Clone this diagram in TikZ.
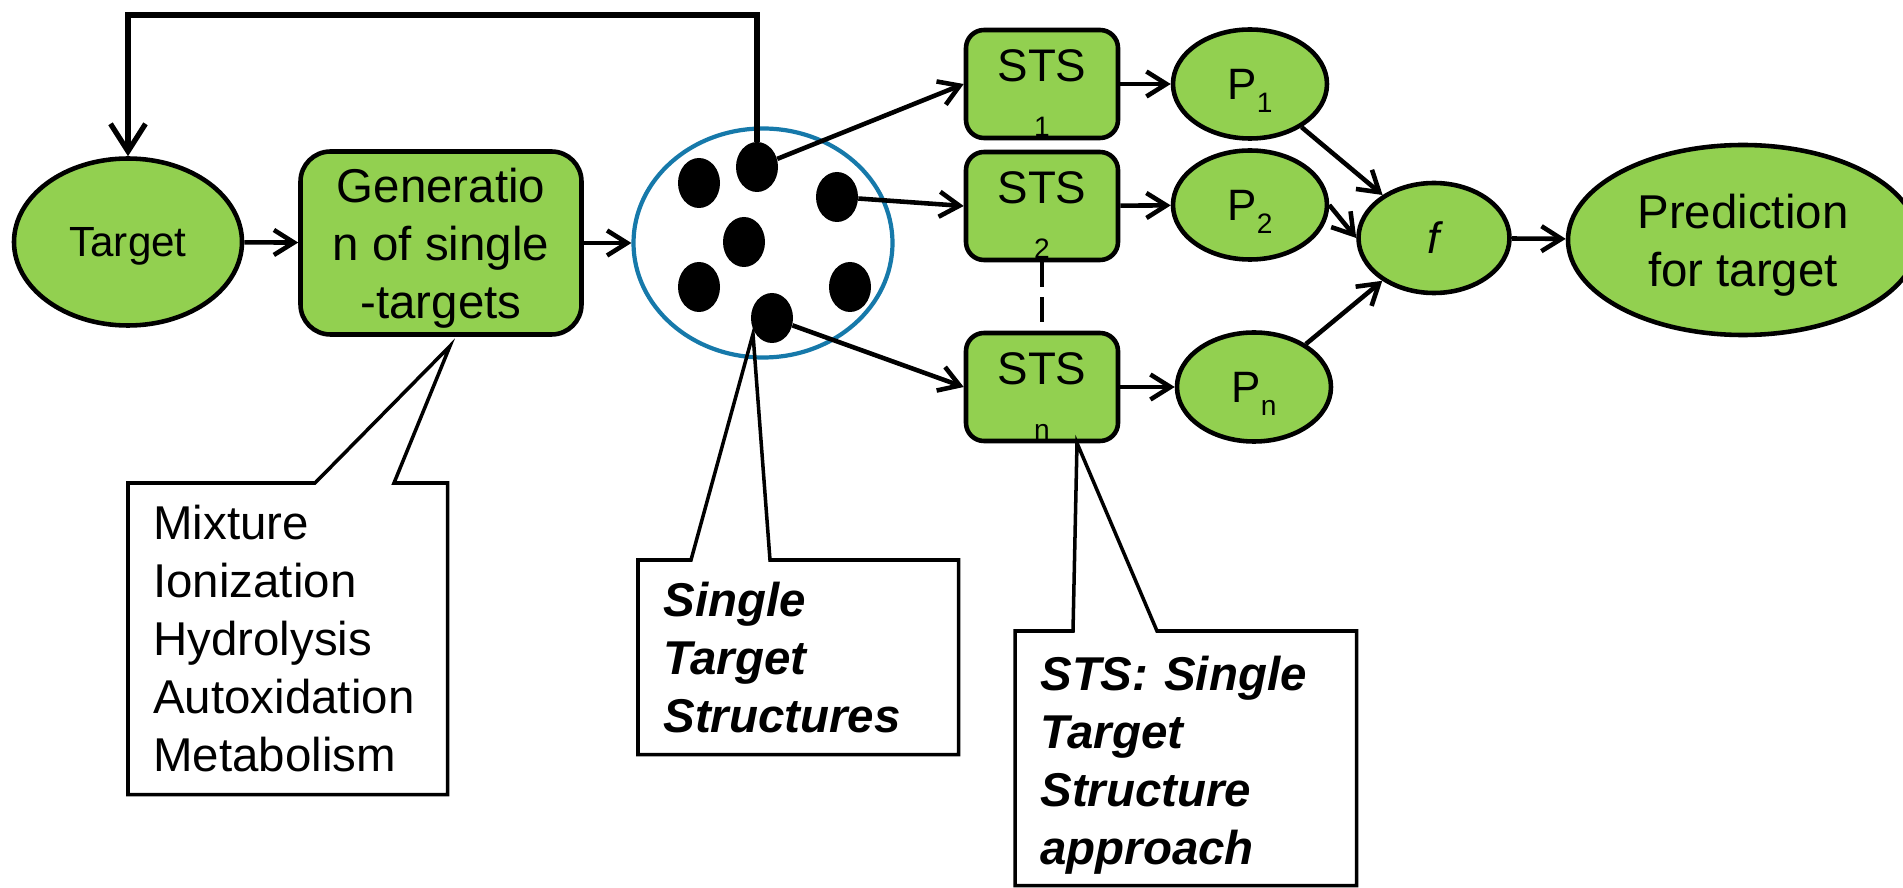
\documentclass[tikz,border=0pt]{standalone}
\usepackage{fontspec}
\setmainfont{Liberation Sans}
\usetikzlibrary{arrows.meta,shapes.geometric}
\definecolor{leaf}{HTML}{92D050}
\definecolor{ring}{RGB}{22,121,170}
\newcommand{\stsno}[1]{{\fontsize{16}{16}\selectfont #1}}
\newcommand{\pno}[1]{\raisebox{-7.4pt}{\fontsize{16}{16}\selectfont #1}}
\tikzset{
  stage/.style={ellipse, draw=black, fill=leaf, line width=2.6pt, inner sep=0pt, align=center, font=\fontsize{27}{33}\selectfont},
  stepbox/.style={rectangle, rounded corners=0.6cm, draw=black, fill=leaf, line width=2.6pt, inner sep=2pt, align=center, text depth=0pt, font=\fontsize{27}{33}\selectfont},
  stsbox/.style={rectangle, rounded corners=0.36cm, draw=black, fill=leaf, line width=2.6pt, minimum width=3.04cm, minimum height=2.16cm, inner sep=0pt, align=center, text height=59.5pt, text depth=0pt, font=\fontsize{26}{31}\selectfont},
  pnode/.style={ellipse, draw=black, fill=leaf, line width=2.6pt, minimum width=3.08cm, minimum height=2.18cm, inner sep=0pt, text depth=-2pt, font=\fontsize{25}{28}\selectfont},
  pool/.style={ellipse, draw=ring, line width=2.4pt, minimum width=5.18cm, minimum height=4.58cm},
  dot/.style={ellipse, fill=black, minimum width=0.84cm, minimum height=1cm, inner sep=0pt},
  flow/.style={-{Straight Barb[length=4mm,width=5mm]}, line width=2.6pt},
  loopback/.style={-{Straight Barb[length=5.5mm,width=7mm]}, line width=3pt},
  note/.style={rectangle, inner xsep=0.5cm, inner ysep=0pt, align=left, anchor=north west, font=\fontsize{27}{33}\selectfont},
  boldnote/.style={note, font=\fontsize{27}{33}\selectfont\bfseries\itshape},
  callout/.style={draw=black, line width=2pt, line join=miter}
}

\begin{document}
\begin{tikzpicture}
  \useasboundingbox (0,0) rectangle (38.06,17.74);
  % main chain
  \node[stage, minimum width=4.56cm, minimum height=3.34cm, text depth=-2pt, font=\fontsize{24}{28}\selectfont] (target) at (2.56,12.90) {Target};
  \node[stepbox, minimum width=5.62cm, minimum height=3.66cm] (gen) at (8.82,12.88) {Generatio\\n of single\\-targets};
  \node[pool] (pool) at (15.26,12.88) {};
  \node[dot] (dA) at (15.14,14.40) {}; \node[dot] (dB) at (13.98,14.08) {};
  \node[dot] (dC) at (16.74,13.80) {}; \node[dot] (dD) at (14.88,12.90) {};
  \node[dot] (dE) at (13.98,12.00) {}; \node[dot] (dF) at (17.00,12.00) {};
  \node[dot] (dG) at (15.44,11.38) {};
  \draw[flow] (target)--(gen); \draw[flow] (gen)--(pool);
  % structures
  \node[stsbox] (sts1) at (20.84,16.06) {STS\\\stsno{1}};
  \node[stsbox] (sts2) at (20.84,13.62) {STS\\\stsno{2}};
  \node[stsbox] (stsn) at (20.84,10.00) {STS\\\stsno{n}};
  \draw[line width=2.2pt, dash pattern=on 0.5cm off 0.2cm] (sts2.south)--(stsn.north);
  \draw[flow] (dA)--(sts1.west); \draw[flow] (dC)--(sts2.west); \draw[flow] (dG)--(stsn.west);
  % predictions
  \node[pnode] (p1) at (25.00,16.06) {P\pno{1}};
  \node[pnode] (p2) at (25.00,13.64) {P\pno{2}};
  \node[pnode] (pn) at (25.08,10.00) {P\pno{n}};
  \draw[flow] (sts1)--(p1); \draw[flow] (sts2)--(p2); \draw[flow] (stsn)--(pn);
  \node[pnode, minimum width=3.02cm, minimum height=2.2cm, text depth=0pt] (f) at (28.68,12.98) {\itshape f};
  \draw[flow] (p1)--(f); \draw[flow] (p2.east)--(f.west); \draw[flow] (pn)--(f);
  \node[stage, minimum width=7.0cm, minimum height=3.8cm, text depth=0pt] (pred) at (34.86,12.94) {Prediction\\for target};
  \draw[flow] (f)--(pred);
  % feedback
  \coordinate (top) at (0,17.44);
  \draw[loopback] (dA.north)--(dA.north |- top) -| (target.north);
  % callouts
  \node[note, text width=5.38cm, minimum height=6.22cm] (mixnote) at (2.56,8.08) {Mixture\\Ionization\\Hydrolysis\\Autoxidation\\Metabolism};
  \draw[callout] (mixnote.north west)--(6.30,8.08)--(9.00,10.82)--(7.88,8.08)--(mixnote.north east) |- (mixnote.south west)--cycle;
  \node[boldnote, text width=5.40cm, minimum height=3.88cm] (stsnote) at (12.76,6.54) {Single\\Target\\Structures};
  \draw[callout] (stsnote.north west)--(13.82,6.54)--(15.06,11.06)--(15.40,6.54)--(stsnote.north east) |- (stsnote.south west)--cycle;
  \node[boldnote, text width=5.82cm, minimum height=5.08cm] (appnote) at (20.30,5.12) {\rule{0pt}{27pt}STS: Single\\Target\\Structure\\approach};
  \draw[callout] (appnote.north west)--(21.46,5.12)--(21.54,8.88)--(23.14,5.12)--(appnote.north east) |- (appnote.south west)--cycle;
\end{tikzpicture}
\end{document}
